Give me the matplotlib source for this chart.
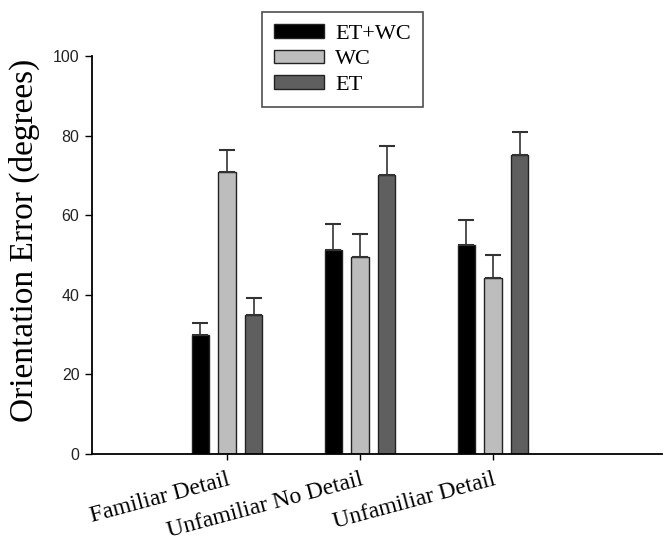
import numpy as np
import matplotlib
matplotlib.use("Agg")
import matplotlib.pyplot as plt

# values
conditions = ["Familiar Detail", "Unfamiliar No Detail", "Unfamiliar Detail"]
series = ["ET+WC", "WC", "ET"]
et_wc = [29.8, 51.3, 52.6]
wc = [70.8, 49.4, 44.3]
et = [34.8, 70.2, 75.1]
et_wc_err = [3.2, 6.6, 6.1]
wc_err = [5.7, 5.9, 5.6]
et_err = [4.4, 7.1, 5.7]
yticks = [0, 20, 40, 60, 80, 100]

colors = ["#000000", "#bdbdbd", "#5f5f5f"]
values = [et_wc, wc, et]
errors = [et_wc_err, wc_err, et_err]

fig = plt.figure(figsize=(6.68, 5.41), dpi=100)
ax = fig.add_axes([92 / 668, 1 - 454 / 541, (662 - 92) / 668, (454 - 56) / 541])

x = np.arange(len(conditions))
width = 0.13
offset = 0.2

for i, (name, vals, errs, col) in enumerate(zip(series, values, errors, colors)):
    pos = x + (i - 1) * offset
    ax.bar(pos, vals, width, color=col, edgecolor="#222222", linewidth=1.0, label=name, zorder=2)
    ax.errorbar(pos, vals, yerr=[np.zeros(len(errs)), errs], fmt="none",
                ecolor="#333333", elinewidth=1.2, capsize=5.5, capthick=1.5, zorder=3)

ax.set_xlim(-1.015, 3.27)
ax.set_ylim(0, 100)
ax.set_yticks(yticks)
ax.set_yticklabels([str(v) for v in yticks], fontfamily="Liberation Sans", fontsize=11.5, color="#222222")
ax.set_xticks(x)
ax.set_xticklabels(conditions, fontfamily="Liberation Serif", fontsize=17,
                   rotation=15, ha="right", va="top", rotation_mode="anchor")
ax.tick_params(axis="y", direction="out", length=5, width=1, pad=4)
ax.tick_params(axis="x", direction="out", length=4, width=1, pad=7)

for side in ["top", "right"]:
    ax.spines[side].set_visible(False)
for side in ["left", "bottom"]:
    ax.spines[side].set_linewidth(1.3)

ax.set_ylabel("Orientation Error (degrees)", fontfamily="Liberation Serif", fontsize=24)
ax.yaxis.set_label_coords(-0.091, 0.538)

leg = fig.legend(loc="upper left", bbox_to_anchor=(262 / 668, 1 - 12 / 541),
                 prop={"family": "Liberation Serif", "size": 16},
                 frameon=True, fancybox=False, edgecolor="#222222",
                 handlelength=2.25, handleheight=0.55, handletextpad=0.5,
                 labelspacing=0.27, borderpad=0.55, borderaxespad=0)
leg.get_frame().set_linewidth(1.2)

fig.savefig("out.png", dpi=100)
